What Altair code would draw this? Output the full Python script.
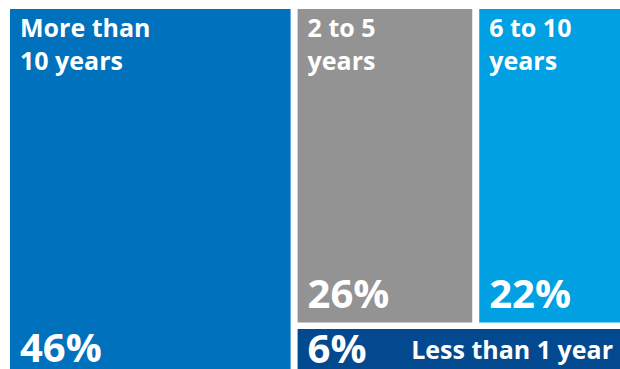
import altair as alt
import pandas as pd

categories = ["More than 10 years", "2 to 5 years", "6 to 10 years", "Less than 1 year"]
labels = ["More than\n10 years", "2 to 5\nyears", "6 to 10\nyears", "Less than 1 year"]
shares = [46, 26, 22, 6]
colors = ["#0071BC", "#939393", "#00A0E2", "#03498F"]

W, H = 610, 360
GAP_X, GAP_Y = 7, 6.5
FONT = "Open Sans"


def layout(v):
    total = sum(v)
    a, b, c, d = v
    xl = W * a / total
    rx0 = xl + GAP_X
    rw = W - rx0
    yb = H * (b + c) / (b + c + d)
    xb = rx0 + rw * b / (b + c)
    return [
        (0, xl, 0, H),
        (rx0, xb, 0, yb - GAP_Y),
        (xb + GAP_X, W, 0, yb - GAP_Y),
        (rx0, W, yb, H),
    ]


rects = layout(shares)
df = pd.DataFrame({
    "cat": categories,
    "label": labels,
    "pct": [f"{s}%" for s in shares],
    "x": [r[0] for r in rects],
    "x2": [r[1] for r in rects],
    "y": [r[2] for r in rects],
    "y2": [r[3] for r in rects],
})

xs = alt.Scale(domain=[0, W], nice=False, zero=False)
ys = alt.Scale(domain=[0, H], nice=False, zero=False, reverse=True)

base = alt.Chart(df)

rect = base.mark_rect().encode(
    x=alt.X("x:Q", scale=xs, axis=None),
    x2="x2:Q",
    y=alt.Y("y:Q", scale=ys, axis=None),
    y2="y2:Q",
    color=alt.Color("cat:N", scale=alt.Scale(domain=categories, range=colors), legend=None),
)

txt = dict(font=FONT, fontWeight="bold", color="white", baseline="alphabetic")

titles = base.transform_filter(
    alt.FieldOneOfPredicate(field="cat", oneOf=categories[:3])
).mark_text(align="left", dx=10, dy=28, fontSize=25, lineBreak="\n", lineHeight=33, **txt).encode(
    x=alt.X("x:Q", scale=xs, axis=None), y=alt.Y("y:Q", scale=ys, axis=None), text="label:N"
)

pct_left = base.transform_filter(alt.datum.cat == categories[0]).mark_text(
    align="left", dx=10, dy=-7, fontSize=40, **txt
).encode(x=alt.X("x:Q", scale=xs, axis=None), y=alt.Y("y2:Q", scale=ys, axis=None), text="pct:N")

pct_top = base.transform_filter(
    alt.FieldOneOfPredicate(field="cat", oneOf=categories[1:3])
).mark_text(align="left", dx=10, dy=-15, fontSize=40, **txt).encode(
    x=alt.X("x:Q", scale=xs, axis=None), y=alt.Y("y2:Q", scale=ys, axis=None), text="pct:N"
)

pct_small = base.transform_filter(alt.datum.cat == categories[3]).mark_text(
    align="left", dx=10, dy=-6, fontSize=40, **txt
).encode(x=alt.X("x:Q", scale=xs, axis=None), y=alt.Y("y2:Q", scale=ys, axis=None), text="pct:N")

small_label = base.transform_filter(alt.datum.cat == categories[3]).mark_text(
    align="right", dx=-7, dy=-10, fontSize=25, **txt
).encode(x=alt.X("x2:Q", scale=xs, axis=None), y=alt.Y("y2:Q", scale=ys, axis=None), text="label:N")

chart = alt.layer(rect, titles, pct_left, pct_top, pct_small, small_label).properties(
    width=W,
    height=H,
    autosize="none",
    padding={"left": 10, "top": 9, "right": 0, "bottom": 0},
    background="white",
).configure_view(stroke=None)

chart.save("out.html", embed_options={"renderer": "svg", "actions": False})
